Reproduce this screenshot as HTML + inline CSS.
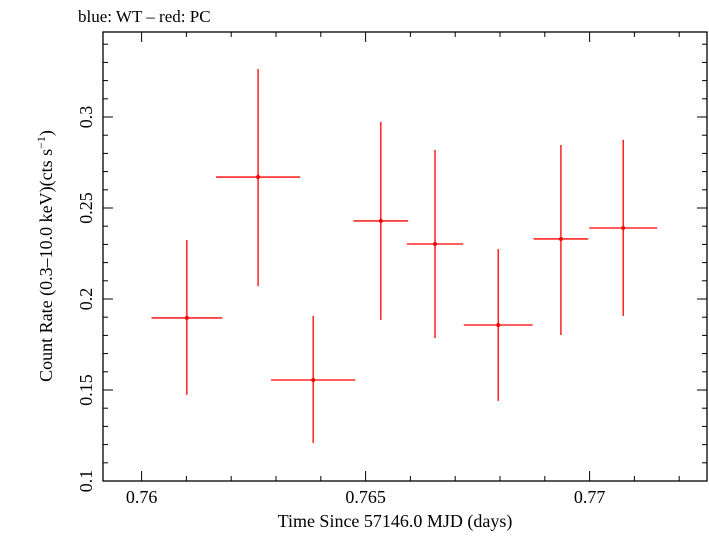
<!DOCTYPE html>
<html><head><meta charset="utf-8"><style>
body{margin:0;background:#fff}
svg text{font-family:"Liberation Serif",serif;fill:#000}
</style></head><body>
<svg width="709" height="532" viewBox="0 0 709 532">
<text x="78" y="22" font-size="17">blue: WT – red: PC</text>
<g id="axes"></g>
<g id="marks"></g>
<text x="395" y="527" font-size="18" text-anchor="middle">Time Since 57146.0 MJD (days)</text>
<text transform="translate(52,256) rotate(-90)" font-size="18" text-anchor="middle">Count Rate (0.3–10.0 keV)(cts s<tspan font-size="12" dy="-7">−1</tspan><tspan dy="7">)</tspan></text>
</svg>
<script>
const times=[0.76101,0.76260,0.76383,0.76534,0.76655,0.76796,0.76936,0.77075];
const halfWidths=[0.00079,0.00094,0.00094,0.00061,0.00063,0.00077,0.00061,0.00076];
const rates=[0.1896,0.2670,0.1555,0.2429,0.2302,0.1857,0.2330,0.2390];
const errHigh=[0.2324,0.3264,0.1907,0.2973,0.2819,0.2275,0.2846,0.2874];
const errLow=[0.1473,0.2071,0.1209,0.1885,0.1786,0.1440,0.1802,0.1907];
const xTicks=[0.76,0.765,0.77];
const xTickLabels=["0.76","0.765","0.77"];
const yTicks=[0.1,0.15,0.2,0.25,0.3];
const yTickLabels=["0.1","0.15","0.2","0.25","0.3"];

const L=103,R=707,T=32,B=481;
const X=v=>141.6+(v-0.76)*44800;
const Y=v=>B-(v-0.1)*1820;
const NS="http://www.w3.org/2000/svg";
function mk(tag,attrs,parent){const e=document.createElementNS(NS,tag);for(const k in attrs)e.setAttribute(k,attrs[k]);parent.appendChild(e);return e;}
const ax=document.getElementById('axes');
const frame=mk('rect',{x:L,y:T,width:R-L,height:B-T,fill:'none',stroke:'#000','stroke-width':1.3},ax);


for(let i=-1;i<=13;i++){const v=0.76+i*0.001;const x=X(v);if(x<L||x>R)continue;const major=i%5===0;const len=major?10:5;
 const t1=mk('line',{x1:x,x2:x,y1:B,y2:B-len,stroke:'#000','stroke-width':1},ax);
 
 
 const t2=mk('line',{x1:x,x2:x,y1:T,y2:T+len,stroke:'#000','stroke-width':1},ax);
 
 }
for(let i=0;i<=24;i++){const v=0.1+i*0.01;const y=Y(v);if(y<T)continue;const major=i%5===0;const len=major?10:5;
 const t1=mk('line',{x1:L,x2:L+len,y1:y,y2:y,stroke:'#000','stroke-width':1},ax);
 
 
 const t2=mk('line',{x1:R,x2:R-len,y1:y,y2:y,stroke:'#000','stroke-width':1},ax);
 
 }
xTicks.forEach((v,i)=>{const t=mk('text',{x:X(v),y:503,'font-size':18,'text-anchor':'middle'},ax);t.textContent=xTickLabels[i];
 
 });
yTicks.forEach((v,i)=>{const y=Y(v);const t=mk('text',{transform:`translate(92,${y}) rotate(-90)`,'font-size':18,'text-anchor':'middle'},ax);t.textContent=yTickLabels[i];
 
 });
const mg=document.getElementById('marks');
times.forEach((t,i)=>{const g=mk('g',{},mg);
 
 
 mk('line',{x1:X(t-halfWidths[i]),x2:X(t+halfWidths[i]),y1:Y(rates[i]),y2:Y(rates[i]),stroke:'#f00','stroke-width':1.3},g);
 mk('line',{x1:X(t),x2:X(t),y1:Y(errHigh[i]),y2:Y(errLow[i]),stroke:'#f00','stroke-width':1.3},g);
 mk('circle',{cx:X(t),cy:Y(rates[i]),r:2,fill:'#f00'},g);});
</script>
</body></html>
